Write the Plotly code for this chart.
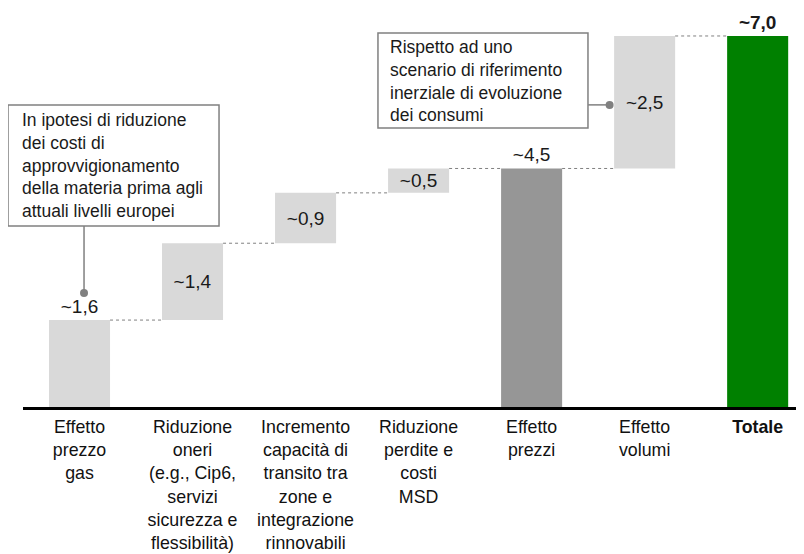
import plotly.graph_objects as go

# ── Data ──────────────────────────────────────────────────────────────────────
categories = [
    "Effetto<br>prezzo<br>gas",
    "Riduzione<br>oneri<br>(e.g., Cip6,<br>servizi<br>sicurezza e<br>flessibilità)",
    "Incremento<br>capacità di<br>transito tra<br>zone e<br>integrazione<br>rinnovabili",
    "Riduzione<br>perdite e<br>costi<br>MSD",
    "Effetto<br>prezzi",
    "Effetto<br>volumi",
    "<b>Totale</b>",
]
values = [1.64, 1.45, 0.95, 0.46, 4.5, 2.5, 7.0]
kinds = ["delta", "delta", "delta", "delta", "total", "delta", "total"]
value_labels = ["~1,6", "~1,4", "~0,9", "~0,5", "~4,5", "~2,5", "<b>~7,0</b>"]
label_pos = ["outside", "inside", "inside", "inside", "outside", "inside", "outside"]
bar_colors = ["#D9D9D9", "#D9D9D9", "#D9D9D9", "#D9D9D9", "#969696", "#D9D9D9", "#008000"]

note_left = ("In ipotesi di riduzione<br>dei costi di<br>approvvigionamento<br>"
             "della materia prima agli<br>attuali livelli europei")
note_right = ("Rispetto ad uno<br>scenario di riferimento<br>inerziale di evoluzione<br>"
              "dei consumi")

FONT = "Arial, Liberation Sans, sans-serif"
BAR_W = 0.54
GREY = "#808080"

# ── Waterfall geometry from the values ───────────────────────────────────────
bases, tops = [], []
running = 0.0
for v, k in zip(values, kinds):
    if k == "total":
        bases.append(0.0)
        running = v
    else:
        bases.append(running)
        running += v
    tops.append(bases[-1] + v)

x = list(range(len(categories)))

fig = go.Figure()
fig.add_trace(go.Bar(
    x=x, y=values, base=bases,
    width=BAR_W,
    marker=dict(color=bar_colors, line=dict(width=0)),
    text=value_labels,
    textposition=label_pos,
    insidetextanchor="middle",
    constraintext="none",
    textfont=dict(family=FONT, size=19, color="#1a1a1a"),
    cliponaxis=False,
    hoverinfo="skip",
))

shapes = []
# dotted connectors between consecutive bars
for i in range(len(values) - 1):
    level = tops[i]
    shapes.append(dict(
        type="line", xref="x", yref="y",
        x0=i + BAR_W / 2, x1=i + 1 - BAR_W / 2, y0=level, y1=level,
        line=dict(color=GREY, width=1, dash="dot"),
    ))

# callout boxes (paper coords)
shapes.append(dict(type="rect", xref="paper", yref="paper",
                   x0=-0.0192, x1=0.251, y0=0.4559, y1=0.7607,
                   line=dict(color=GREY, width=1.5), fillcolor="white"))
shapes.append(dict(type="rect", xref="paper", yref="paper",
                   x0=0.4545, x1=0.7234, y0=0.7028, y1=0.9421,
                   line=dict(color=GREY, width=1.5), fillcolor="white"))
# callout leaders
shapes.append(dict(type="line", xref="x", yref="y",
                   x0=0.04, x1=0.04, y0=3.415, y1=2.15,
                   line=dict(color=GREY, width=1.5)))
shapes.append(dict(type="line", xref="x", yref="y",
                   x0=4.50, x1=4.69, y0=5.70, y1=5.70,
                   line=dict(color=GREY, width=1.5)))

fig.add_trace(go.Scatter(
    x=[0.04, 4.69], y=[2.15, 5.70], mode="markers",
    marker=dict(color=GREY, size=8), hoverinfo="skip", cliponaxis=False,
))

annotations = [
    dict(xref="paper", yref="paper", x=-0.0038, y=0.6083,
         xanchor="left", yanchor="middle", align="left", showarrow=False,
         text=note_left, font=dict(family=FONT, size=17.5, color="#1a1a1a")),
    dict(xref="paper", yref="paper", x=0.4673, y=0.8224,
         xanchor="left", yanchor="middle", align="left", showarrow=False,
         text=note_right, font=dict(family=FONT, size=17.5, color="#1a1a1a")),
]

# page body adds an 8px offset, so the figure is sized to fit inside it
fig.update_layout(
    width=796, height=546,
    margin=dict(l=15, r=0, t=2, b=147),
    plot_bgcolor="white", paper_bgcolor="white",
    showlegend=False,
    shapes=shapes,
    annotations=annotations,
    font=dict(family=FONT, size=18, color="#111111"),
)
fig.update_xaxes(
    range=[-0.5, 6.41], automargin=False,
    tickmode="array", tickvals=x, ticktext=categories,
    showgrid=False, zeroline=False,
    showline=True, linecolor="black", linewidth=2.5,
    ticks="", ticklabelstandoff=2,
    tickfont=dict(family=FONT, size=17.8, color="#111111"),
)
fig.update_yaxes(range=[0, 7.49], visible=False, automargin=False)

fig.write_html("out.html")
